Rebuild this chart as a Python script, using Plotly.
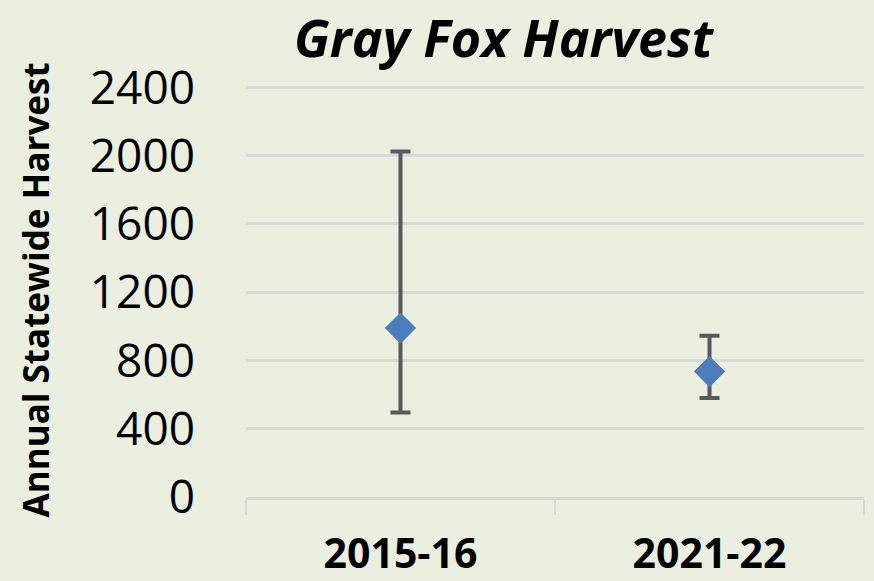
import plotly.graph_objects as go

categories = ["2015-16", "2021-22"]
harvest = [990, 735]
upper = [2025, 945]
lower = [495, 580]
y_ticks = [0, 400, 800, 1200, 1600, 2000, 2400]

err_plus = [u - m for u, m in zip(upper, harvest)]
err_minus = [m - l for m, l in zip(harvest, lower)]

BG = "#EBEFDF"
GRID = "#D9D9D9"
FONT = "Open Sans"

fig = go.Figure(go.Scatter(
    x=categories, y=harvest, mode="markers",
    marker=dict(symbol="diamond", size=24, color="#4A7DBA", line=dict(width=0)),
    error_y=dict(type="data", symmetric=False, array=err_plus, arrayminus=err_minus,
                 color="#595959", thickness=4, width=10),
    showlegend=False,
))

W, H = 874, 581
L, R, T, B = 246, 10, 84, 84
fig.update_layout(
    width=W, height=H,
    margin=dict(l=L, r=R, t=T, b=B, pad=0, autoexpand=False),
    paper_bgcolor=BG, plot_bgcolor=BG,
    font=dict(family=FONT, color="#000000"),
    title=dict(text="<b><i>Gray Fox Harvest</i></b>", x=503.5 / W, xanchor="center", xref="container",
               y=1 - 39 / H, yanchor="middle", yref="container",
               font=dict(size=52, family=FONT, color="#000000")),
)
fig.update_xaxes(
    type="category", range=[-0.5, 1.5], showgrid=False, showline=True, linecolor=GRID, linewidth=3,
    ticks="outside", tickson="boundaries", ticklen=15, tickcolor=GRID, tickwidth=2,
    tickfont=dict(size=41, family=FONT, color="#000000", weight="bold"),
    ticklabelstandoff=19, zeroline=False, automargin=False,
)
fig.update_yaxes(
    range=[0, 2420], tickvals=y_ticks, ticktext=[str(v) for v in y_ticks],
    showgrid=True, gridcolor=GRID, gridwidth=3, zeroline=False, showline=False,
    tickfont=dict(size=46, family=FONT, color="#000000"), ticklabelstandoff=50,
    automargin=False,
)
fig.add_annotation(
    text="<b>Annual Statewide Harvest</b>", textangle=-90,
    xref="paper", yref="paper", x=(35 - L) / (W - L - R), y=0.5,
    xanchor="center", yanchor="middle", showarrow=False,
    font=dict(size=35, family=FONT, color="#000000"),
)
fig.write_html("out.html", config={"displayModeBar": False},
               post_script="document.body.style.margin='0';document.body.style.overflow='hidden';")
